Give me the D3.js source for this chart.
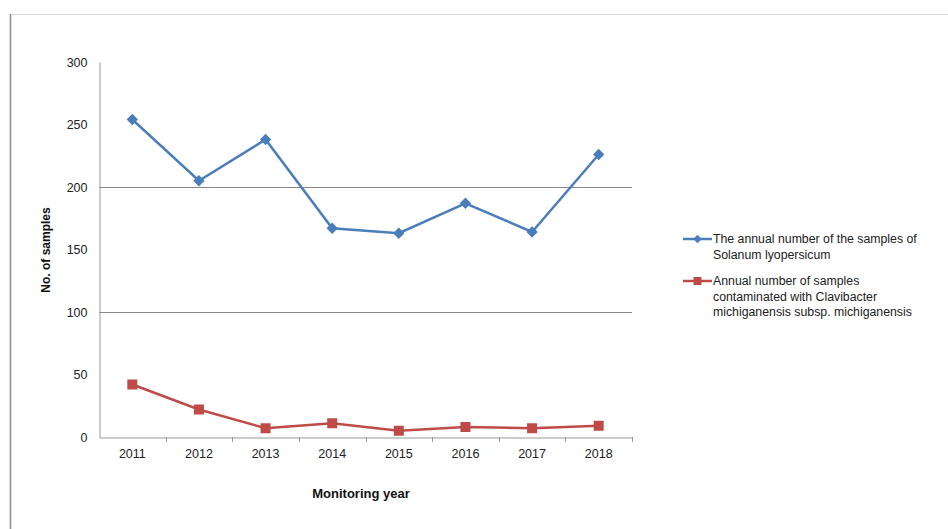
<!DOCTYPE html>
<html>
<head>
<meta charset="utf-8">
<script src="https://cdn.jsdelivr.net/npm/d3@7"></script>
<style>
  body { margin: 0; background: #fff; }
  text { font-family: "Liberation Sans", Arial, sans-serif; }
</style>
</head>
<body>
<svg id="chart" width="948" height="529"></svg>
<script>
const years = ["2011", "2012", "2013", "2014", "2015", "2016", "2017", "2018"];
const samples = [254, 205, 238, 167, 163, 187, 164, 226];
const contaminated = [42, 22, 7, 11, 5, 8, 7, 9];
const yTicks = [0, 50, 100, 150, 200, 250, 300];
const gridValues = [100, 200];
const seriesNames = [
   ["The annual number of the samples of", "Solanum lyopersicum"],
   ["Annual number of samples", "contaminated with Clavibacter", "michiganensis subsp. michiganensis"]
];

const svg = d3.select("#chart");
const plotLeft = 99, plotRight = 632, plotTop = 62, plotBottom = 437;

// outer frame (top and left edges only)
svg.append("line").attr("x1", 10).attr("x2", 948).attr("y1", 14.5).attr("y2", 14.5)
   .attr("stroke", "#d9d9d9").attr("stroke-width", 1);
svg.append("line").attr("x1", 10.5).attr("x2", 10.5).attr("y1", 14).attr("y2", 529)
   .attr("stroke", "#8c8c8c").attr("stroke-width", 1.5);

const x = d3.scaleBand().domain(years).range([plotLeft, plotRight]);
const y = d3.scaleLinear().domain([0, 300]).range([plotBottom, plotTop]);

// gridlines
svg.selectAll(".grid").data(gridValues).enter().append("line")
   .attr("x1", plotLeft).attr("x2", plotRight)
   .attr("y1", d => Math.round(y(d)) + 0.5).attr("y2", d => Math.round(y(d)) + 0.5)
   .attr("stroke", "#888").attr("stroke-width", 1);

// y axis
const yAxis = svg.append("g").attr("transform", `translate(${plotLeft + 0.5},0)`)
   .call(d3.axisLeft(y).tickValues(yTicks).tickSize(0).tickPadding(12));
yAxis.select(".domain").attr("stroke", "#999");
yAxis.selectAll("text").attr("font-size", 12.5).attr("fill", "#222");

// x axis
const xAxis = svg.append("g").attr("transform", `translate(0,${plotBottom + 0.5})`)
   .call(d3.axisBottom(x).tickSize(0).tickPadding(12));
xAxis.select(".domain").attr("stroke", "#999");
xAxis.selectAll("text").attr("font-size", 12.5).attr("fill", "#222");
// category boundary ticks
const bounds = years.map(d => x(d)).concat([x(years[years.length - 1]) + x.bandwidth()]);
svg.selectAll(".xtick").data(bounds.slice(1)).enter().append("line")
   .attr("x1", d => Math.round(d) + 0.5).attr("x2", d => Math.round(d) + 0.5)
   .attr("y1", plotBottom).attr("y2", plotBottom + 5)
   .attr("stroke", "#999");

const cx = d => x(d) + x.bandwidth() / 2;
const line = d3.line().x(d => cx(d[0])).y(d => y(d[1]));

const blue = "#4a7ebb", red = "#be4b48";

svg.append("path").datum(years.map((d, i) => [d, samples[i]]))
   .attr("d", line).attr("fill", "none").attr("stroke", blue).attr("stroke-width", 2.5);
svg.append("path").datum(years.map((d, i) => [d, contaminated[i]]))
   .attr("d", line).attr("fill", "none").attr("stroke", red).attr("stroke-width", 2.5);

// diamonds: squares turned 45 degrees
svg.selectAll(".dia").data(years).enter().append("rect")
   .attr("x", -4).attr("y", -4).attr("width", 8).attr("height", 8)
   .attr("transform", (d, i) => `translate(${cx(d)},${y(samples[i])}) rotate(45)`)
   .attr("fill", blue);
svg.selectAll(".sq").data(years).enter().append("rect")
   .attr("x", d => cx(d) - 5).attr("y", (d, i) => y(contaminated[i]) - 5)
   .attr("width", 10).attr("height", 10)
   .attr("fill", red);

// axis titles
svg.append("text").attr("transform", "translate(50,250) rotate(-90)")
   .attr("text-anchor", "middle").attr("font-size", 12).attr("font-weight", "bold")
   .attr("fill", "#111").text("No. of samples");
svg.append("text").attr("x", 361).attr("y", 498)
   .attr("text-anchor", "middle").attr("font-size", 13).attr("font-weight", "bold")
   .attr("fill", "#111").text("Monitoring year");

// legend
const legendY = [239, 281];
const colors = [blue, red];
seriesNames.forEach((lines, i) => {
   const g = svg.append("g").attr("transform", `translate(683,${legendY[i]})`);
   g.append("line").attr("x1", 0).attr("x2", 29).attr("y1", 0).attr("y2", 0)
      .attr("stroke", colors[i]).attr("stroke-width", 2.5);
   if (i === 0) {
      g.append("rect").attr("x", -3).attr("y", -3).attr("width", 6).attr("height", 6)
         .attr("transform", "translate(14.5,0) rotate(45)").attr("fill", colors[i]);
   } else {
      g.append("rect").attr("x", 10.5).attr("y", -4).attr("width", 8).attr("height", 8)
         .attr("fill", colors[i]);
   }
   lines.forEach((t, j) => {
      g.append("text").attr("x", 30).attr("y", j * 15.5 + 4)
         .attr("font-size", 12.3).attr("fill", "#222").text(t);
   });
});
</script>
</body>
</html>
